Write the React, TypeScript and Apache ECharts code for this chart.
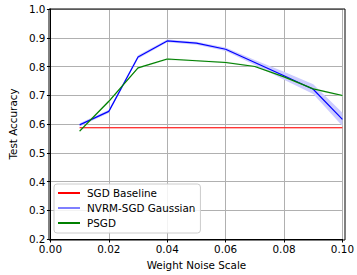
import React, { useEffect, useRef } from "react";
import * as echarts from "echarts";

const noiseScale = [0.01, 0.02, 0.03, 0.04, 0.05, 0.06, 0.07, 0.08, 0.09, 0.1];
const sgdBaseline = [0.587, 0.587, 0.587, 0.587, 0.587, 0.587, 0.587, 0.587, 0.587, 0.587];
const sgdStd = [0.002, 0.002, 0.002, 0.002, 0.002, 0.002, 0.002, 0.002, 0.002, 0.002];
const nvrmGaussian = [0.597, 0.644, 0.833, 0.889, 0.881, 0.86, 0.814, 0.768, 0.721, 0.616];
const nvrmStd = [0.006, 0.006, 0.006, 0.005, 0.005, 0.006, 0.009, 0.014, 0.017, 0.023];
const psgd = [0.575, 0.679, 0.795, 0.826, 0.82, 0.814, 0.8, 0.764, 0.722, 0.699];
const psgdStd = [0.004, 0.004, 0.003, 0.003, 0.003, 0.003, 0.003, 0.003, 0.003, 0.003];

const FONT = "DejaVu Sans";
const FS = 10.4;

function bandSeries(mean: number[], std: number[], color: string) {
  const data = noiseScale.map((x, i) => [x, mean[i] - std[i], mean[i] + std[i]]);
  return {
    type: "custom",
    silent: true,
    z: 1,
    encode: { x: 0, y: [1, 2] },
    data,
    renderItem: (params: any, api: any) => {
      if (params.dataIndex !== 0) return null;
      const upper = data.map((d) => api.coord([d[0], d[2]]));
      const lower = data.map((d) => api.coord([d[0], d[1]])).reverse();
      return {
        type: "polygon",
        shape: { points: upper.concat(lower) },
        style: { fill: color, stroke: "none" },
      };
    },
  };
}

export default function App() {
  const ref = useRef<HTMLDivElement>(null);
  useEffect(() => {
    document.body.style.margin = "0";
    if (!ref.current) return;
    const chart = echarts.init(ref.current, undefined, { renderer: "svg" });
    const line = (name: string, vals: number[], color: string) => ({
      name,
      type: "line",
      data: noiseScale.map((x, i) => [x, vals[i]]),
      symbol: "none",
      lineStyle: { color, width: 1.2 },
      itemStyle: { color },
      z: 3,
    });
    chart.setOption({
      animation: false,
      textStyle: { fontFamily: FONT },
      grid: { left: 49, right: 12, top: 9, bottom: 35 },
      legend: {
        orient: "vertical",
        left: 54,
        top: 184,
        padding: [3, 5, 4, 4],
        itemGap: 3,
        itemWidth: 22,
        itemHeight: 2,
        icon: "rect",
        backgroundColor: "rgba(255,255,255,0.85)",
        borderColor: "#cccccc",
        borderWidth: 1,
        borderRadius: 3,
        textStyle: { fontFamily: FONT, fontSize: FS, color: "#000", lineHeight: 12, padding: [0, 0, 0, 2] },
        data: [
          { name: "SGD Baseline", itemStyle: { color: "#ff0000" } },
          { name: "NVRM-SGD Gaussian", itemStyle: { color: "#7f7fff" } },
          { name: "PSGD", itemStyle: { color: "#008000" } },
        ],
      },
      xAxis: {
        type: "value",
        min: 0,
        max: 0.1,
        interval: 0.02,
        name: "Weight Noise Scale",
        nameLocation: "middle",
        nameGap: 21,
        nameTextStyle: { fontFamily: FONT, fontSize: FS, color: "#000" },
        axisLine: { show: true, lineStyle: { color: "#000", width: 1 } },
        axisTick: { show: true, length: 3.5, lineStyle: { color: "#000" } },
        axisLabel: {
          fontFamily: FONT,
          fontSize: FS,
          color: "#000",
          margin: 5,
          formatter: (v: number) => v.toFixed(2),
        },
        splitLine: { show: true, lineStyle: { color: "#b0b0b0", width: 1 } },
      },
      yAxis: {
        type: "value",
        min: 0.2,
        max: 1.0,
        interval: 0.1,
        name: "Test Accuracy",
        nameLocation: "middle",
        nameGap: 31,
        nameTextStyle: { fontFamily: FONT, fontSize: FS, color: "#000" },
        axisLine: { show: true, lineStyle: { color: "#000", width: 1 } },
        axisTick: { show: true, length: 3.5, lineStyle: { color: "#000" } },
        axisLabel: {
          fontFamily: FONT,
          fontSize: FS,
          color: "#000",
          margin: 5,
          formatter: (v: number) => v.toFixed(1),
        },
        splitLine: { show: true, lineStyle: { color: "#b0b0b0", width: 1 } },
      },
      graphic: [
        {
          type: "rect",
          shape: { x: 49, y: 9, width: 296, height: 231 },
          style: { fill: "none", stroke: "#000", lineWidth: 1 },
          silent: true,
          z: 10,
        },
      ],
      series: [
        bandSeries(sgdBaseline, sgdStd, "#ffcccc"),
        bandSeries(nvrmGaussian, nvrmStd, "#ccccff"),
        bandSeries(psgd, psgdStd, "#cce6cc"),
        line("SGD Baseline", sgdBaseline, "#ff0000"),
        line("NVRM-SGD Gaussian", nvrmGaussian, "#0000ff"),
        line("PSGD", psgd, "#008000"),
      ],
    });
    return () => chart.dispose();
  }, []);
  return <div ref={ref} style={{ width: 357, height: 275 }} />;
}
